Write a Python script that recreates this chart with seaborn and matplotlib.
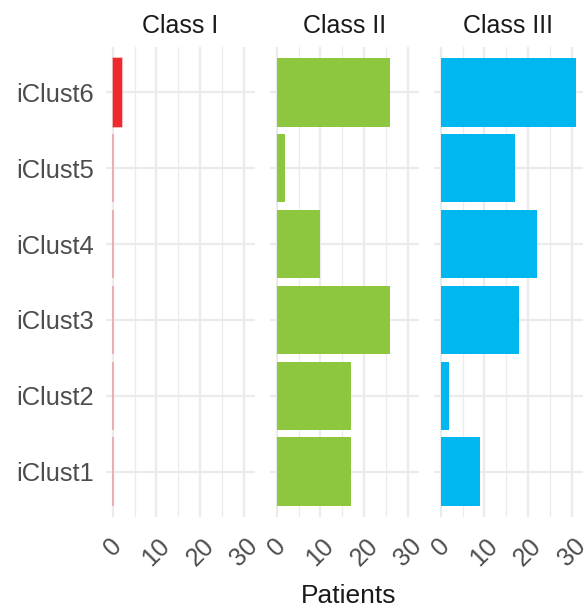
import numpy as np
import pandas as pd
import matplotlib
matplotlib.use("Agg")
import matplotlib.pyplot as plt
import seaborn as sns

clusters = ["iClust6", "iClust5", "iClust4", "iClust3", "iClust2", "iClust1"]
classes = ["Class I", "Class II", "Class III"]
class1 = [2, 0, 0, 0, 0, 0]
class2 = [26, 2, 10, 26, 17, 17]
class3 = [31, 17, 22, 18, 2, 9]
colors = ["#EE2A2E", "#8DC63F", "#00B8EF"]

sns.set_theme(style="white")
plt.rcParams["font.family"] = ["Liberation Sans", "DejaVu Sans"]

fig, axes = plt.subplots(1, 3, figsize=(5.87, 6.11), dpi=100, sharey=True)
fig.subplots_adjust(left=106/587, right=583/587, top=1-47/611, bottom=1-517/611, wspace=0.1)

values = [class1, class2, class3]
for i, ax in enumerate(axes):
    df = pd.DataFrame({"cluster": clusters, "n": values[i]})
    if i == 0:
        ec = (0.93, 0.16, 0.18, 0.4)
        lw = 1.1
    else:
        ec = "none"
        lw = 0
    sns.barplot(data=df, x="n", y="cluster", order=clusters, color=colors[i],
                saturation=1, width=0.9, edgecolor=ec, linewidth=lw, ax=ax, zorder=3)
    ax.set_xlim(-1.55, 32.55)
    ax.set_ylim(5.6, -0.6)
    ax.set_xticks([0, 10, 20, 30])
    ax.set_xticks([5, 15, 25], minor=True)
    ax.grid(True, which="major", axis="both", color="#EBEBEB", linewidth=1.6, zorder=0)
    ax.grid(True, which="minor", axis="x", color="#EBEBEB", linewidth=0.9, zorder=0)
    ax.set_axisbelow(True)
    for s in ax.spines.values():
        s.set_visible(False)
    ax.set_xlabel("")
    ax.set_ylabel("")
    ax.tick_params(axis="x", which="both", length=0, pad=12, labelsize=18, labelcolor="#4D4D4D")
    ax.tick_params(axis="y", length=0, pad=9, labelsize=18.4, labelcolor="#4D4D4D")
    for lab in ax.get_xticklabels():
        lab.set_rotation(45)
        lab.set_ha("center")
        lab.set_va("top")
    ax.set_title(classes[i], fontsize=18, color="#1A1A1A", pad=10)

fig.text(349/587, 1-596/611, "Patients", ha="center", va="center", fontsize=19, color="#1A1A1A")
fig.savefig("out.png", dpi=100, facecolor="white")
